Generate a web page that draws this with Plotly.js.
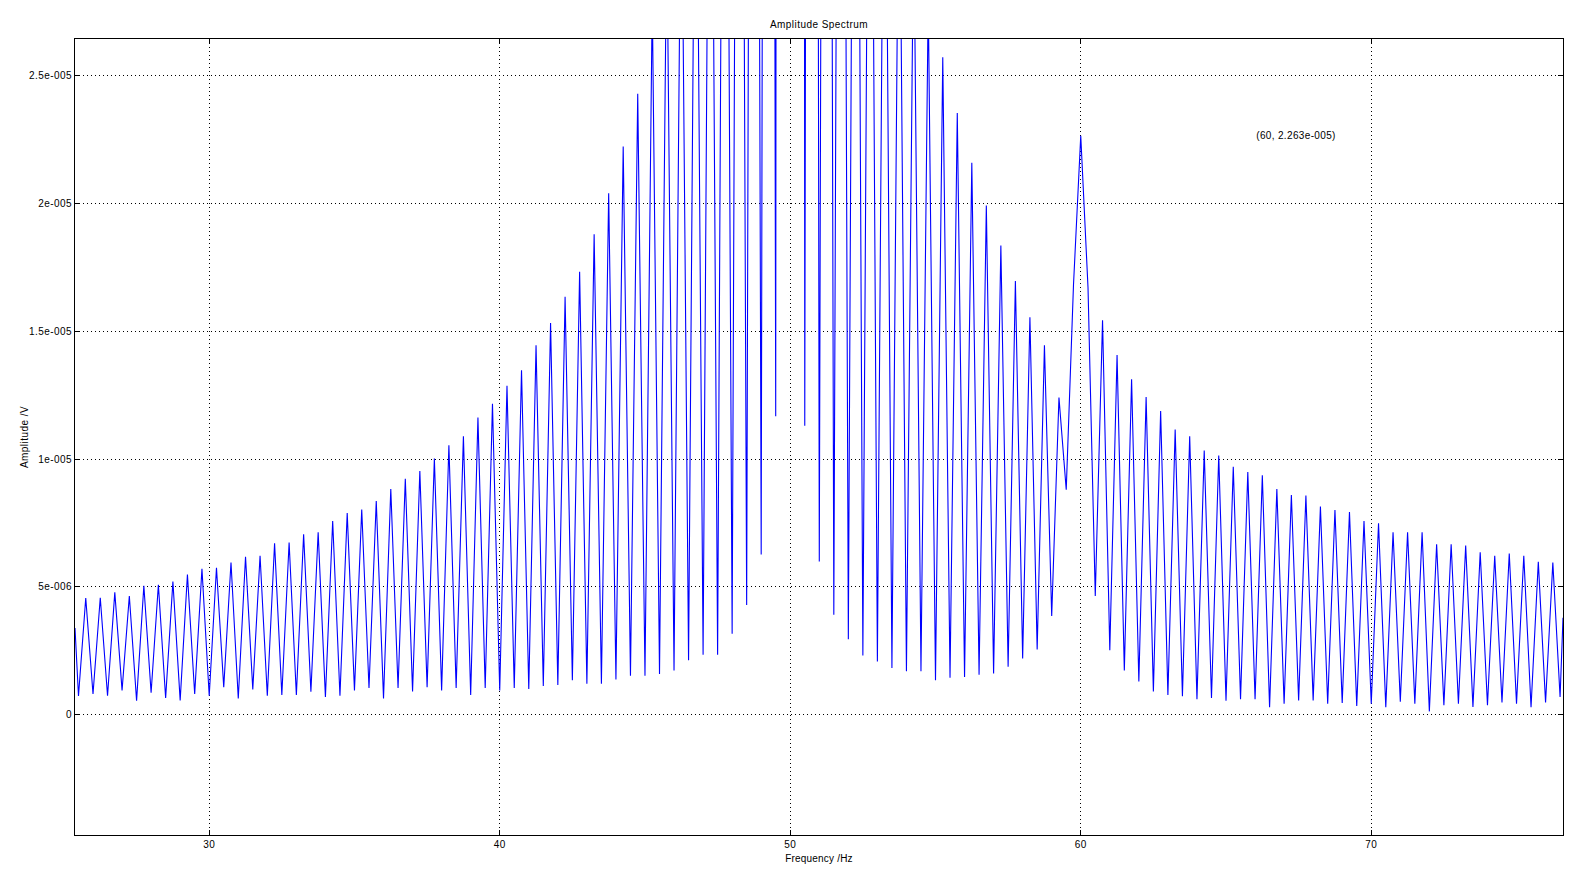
<!DOCTYPE html>
<html>
<head>
<meta charset="utf-8">
<script src="https://cdn.plot.ly/plotly-3.0.1.min.js"></script>
<style>
  html, body { margin: 0; padding: 0; background: #ffffff; }
  #chart { width: 1596px; height: 877px; }
  #chart svg text { letter-spacing: 0.45px; }
  #chart svg .xtitle { letter-spacing: 0.2px; }
  #chart svg .annotation text { letter-spacing: 0.35px; }
</style>
</head>
<body>
<div id="chart"></div>
<script>
// Spectrum samples, in microvolts.
// Regular frequency grid: 25.5 Hz to 76.5 Hz every 0.25 Hz (alternating troughs / peaks).
const gridStartHz = 25.5;
const gridStepHz = 0.25;
// one row per Hz: values at n+0.5, n+0.75, n+1.0, n+1.25
const amplitude_uV = [
  0.74, 4.57, 0.82, 4.58,      // 25.5 - 26.25
  0.75, 4.79, 0.96, 4.65,      // 26.5 - 27.25
  0.56, 5.05, 0.87, 5.09,      // 27.5 - 28.25
  0.66, 5.21, 0.57, 5.49,      // 28.5 - 29.25
  0.82, 5.71, 0.75, 5.75,      // 29.5 - 30.25
  1.08, 5.96, 0.64, 6.18,      // 30.5 - 31.25
  1.00, 6.22, 0.75, 6.71,      // 31.5 - 32.25
  0.78, 6.74, 0.78, 7.06,      // 32.5 - 33.25
  0.91, 7.14, 0.70, 7.58,      // 33.5 - 34.25
  0.75, 7.89, 0.96, 8.03,      // 34.5 - 35.25
  1.05, 8.36, 0.64, 8.83,      // 35.5 - 36.25
  1.05, 9.23, 0.92, 9.53,      // 36.5 - 37.25
  1.08, 10.02, 0.96, 10.54,    // 37.5 - 38.25
  1.05, 10.89, 0.78, 11.62,    // 38.5 - 39.25
  1.05, 12.16, 0.96, 12.86,    // 39.5 - 40.25
  1.05, 13.47, 1.01, 14.44,    // 40.5 - 41.25
  1.13, 15.31, 1.17, 16.34,    // 41.5 - 42.25
  1.36, 17.32, 1.22, 18.78,    // 42.5 - 43.25
  1.22, 20.38, 1.39, 22.21,    // 43.5 - 44.25
  1.53, 24.27, 1.53, 28.0,     // 44.5 - 45.25
  1.60, 31.0, 1.74, 35.0,      // 45.5 - 46.25
  2.14, 40.0, 2.35, 47.0,      // 46.5 - 47.25
  2.35, 57.0, 3.17, 73.0,      // 47.5 - 48.25
  4.30, 100.0, 6.27, 150.0,    // 48.5 - 49.25
  11.67, 500.0, 800.0, 500.0,  // 49.5 - 50.25
  11.30, 170.0, 6.00, 108.0,   // 50.5 - 51.25
  3.92, 77.0, 2.96, 60.0,      // 51.5 - 52.25
  2.32, 49.0, 2.09, 41.5,      // 52.5 - 53.25
  1.83, 36.0, 1.71, 31.5,      // 53.5 - 54.25
  1.71, 28.0, 1.36, 25.7,      // 54.5 - 55.25
  1.45, 23.52, 1.48, 21.57,    // 55.5 - 56.25
  1.57, 19.9, 1.62, 18.34,     // 56.5 - 57.25
  1.88, 16.95, 2.21, 15.54,    // 57.5 - 58.25
  2.56, 14.44, 3.87, 12.40,    // 58.5 - 59.25
  8.80, 16.8, 22.63, 16.7,     // 59.5 - 60.25
  4.65, 15.42, 2.53, 14.06,    // 60.5 - 61.25
  1.74, 13.12, 1.31, 12.42,    // 61.5 - 62.25
  0.92, 11.88, 0.78, 11.15,    // 62.5 - 63.25
  0.73, 10.89, 0.61, 10.33,    // 63.5 - 64.25
  0.66, 10.14, 0.56, 9.70,     // 64.5 - 65.25
  0.61, 9.49, 0.61, 9.36,      // 65.5 - 66.25
  0.30, 8.83, 0.44, 8.59,      // 66.5 - 67.25
  0.57, 8.57, 0.57, 8.14,      // 67.5 - 68.25
  0.44, 8.01, 0.47, 7.93,      // 68.5 - 69.25
  0.35, 7.58, 0.44, 7.49,      // 69.5 - 70.25
  0.30, 7.14, 0.52, 7.14,      // 70.5 - 71.25
  0.44, 7.14, 0.14, 6.67,      // 71.5 - 72.25
  0.38, 6.67, 0.44, 6.62,      // 72.5 - 73.25
  0.31, 6.36, 0.38, 6.22,      // 73.5 - 74.25
  0.49, 6.31, 0.44, 6.22,      // 74.5 - 75.25
  0.30, 5.98, 0.49, 5.96,      // 75.5 - 76.25
  0.70                         // 76.5
];
// first and last samples at the plot edges
const edgeFreqHz = [25.38, 76.6];
const edgeAmp_uV = [3.4, 3.8];

const xTickVals = [30, 40, 50, 60, 70];
const yTickVals = [0, 5e-6, 1e-5, 1.5e-5, 2e-5, 2.5e-5];
const yTickText = ['0', '5e-006', '1e-005', '1.5e-005', '2e-005', '2.5e-005'];
const markerPoint = { x: 60, y: 2.263e-5, label: '(60, 2.263e-005)', labelX: 66.05 };

const freq = [edgeFreqHz[0]];
const amp = [edgeAmp_uV[0] * 1e-6];
amplitude_uV.forEach((v, i) => {
  freq.push(gridStartHz + i * gridStepHz);
  amp.push(v * 1e-6);
});
freq.push(edgeFreqHz[1]);
amp.push(edgeAmp_uV[1] * 1e-6);

const fontFam = '"Liberation Sans", Arial, Helvetica, sans-serif';

const trace = {
  type: 'scatter',
  mode: 'lines',
  x: freq,
  y: amp,
  line: { color: '#0000ff', width: 1.1 },
  hoverinfo: 'skip',
  cliponaxis: true
};

const axisCommon = {
  showline: true,
  linecolor: '#000000',
  linewidth: 1,
  mirror: 'ticks',
  ticks: 'inside',
  ticklen: 5,
  tickwidth: 1,
  tickcolor: '#000000',
  showgrid: true,
  gridcolor: '#000000',
  gridwidth: 1,
  griddash: '1px,3px',
  zeroline: false,
  tickfont: { family: fontFam, size: 10, color: '#000000' },
  fixedrange: true
};

const layout = {
  width: 1596,
  height: 877,
  margin: { l: 75, r: 33, t: 39, b: 42 },
  paper_bgcolor: '#ffffff',
  plot_bgcolor: '#ffffff',
  showlegend: false,
  title: {
    text: 'Amplitude Spectrum',
    font: { family: fontFam, size: 10, color: '#000000' },
    x: 0.5, xref: 'paper', xanchor: 'center',
    y: 1 - 24 / 877, yref: 'container', yanchor: 'middle'
  },
  xaxis: Object.assign({}, axisCommon, {
    range: [edgeFreqHz[0], edgeFreqHz[1]],
    tickmode: 'array',
    tickvals: xTickVals,
    ticktext: xTickVals.map(String),
    title: { text: 'Frequency /Hz', font: { family: fontFam, size: 10, color: '#000000' }, standoff: 5 }
  }),
  yaxis: Object.assign({}, axisCommon, {
    range: [-4.69e-6, 26.41e-6],
    tickmode: 'array',
    tickvals: yTickVals,
    ticktext: yTickText,
    title: { text: 'Amplitude /V', font: { family: fontFam, size: 10, color: '#000000' }, standoff: 2 }
  }),
  annotations: [{
    x: markerPoint.labelX, y: markerPoint.y, xref: 'x', yref: 'y',
    text: markerPoint.label, showarrow: false,
    xanchor: 'left', yanchor: 'middle',
    font: { family: fontFam, size: 10, color: '#000000' }
  }]
};

Plotly.newPlot('chart', [trace], layout, { staticPlot: true, displayModeBar: false });
</script>
</body>
</html>
